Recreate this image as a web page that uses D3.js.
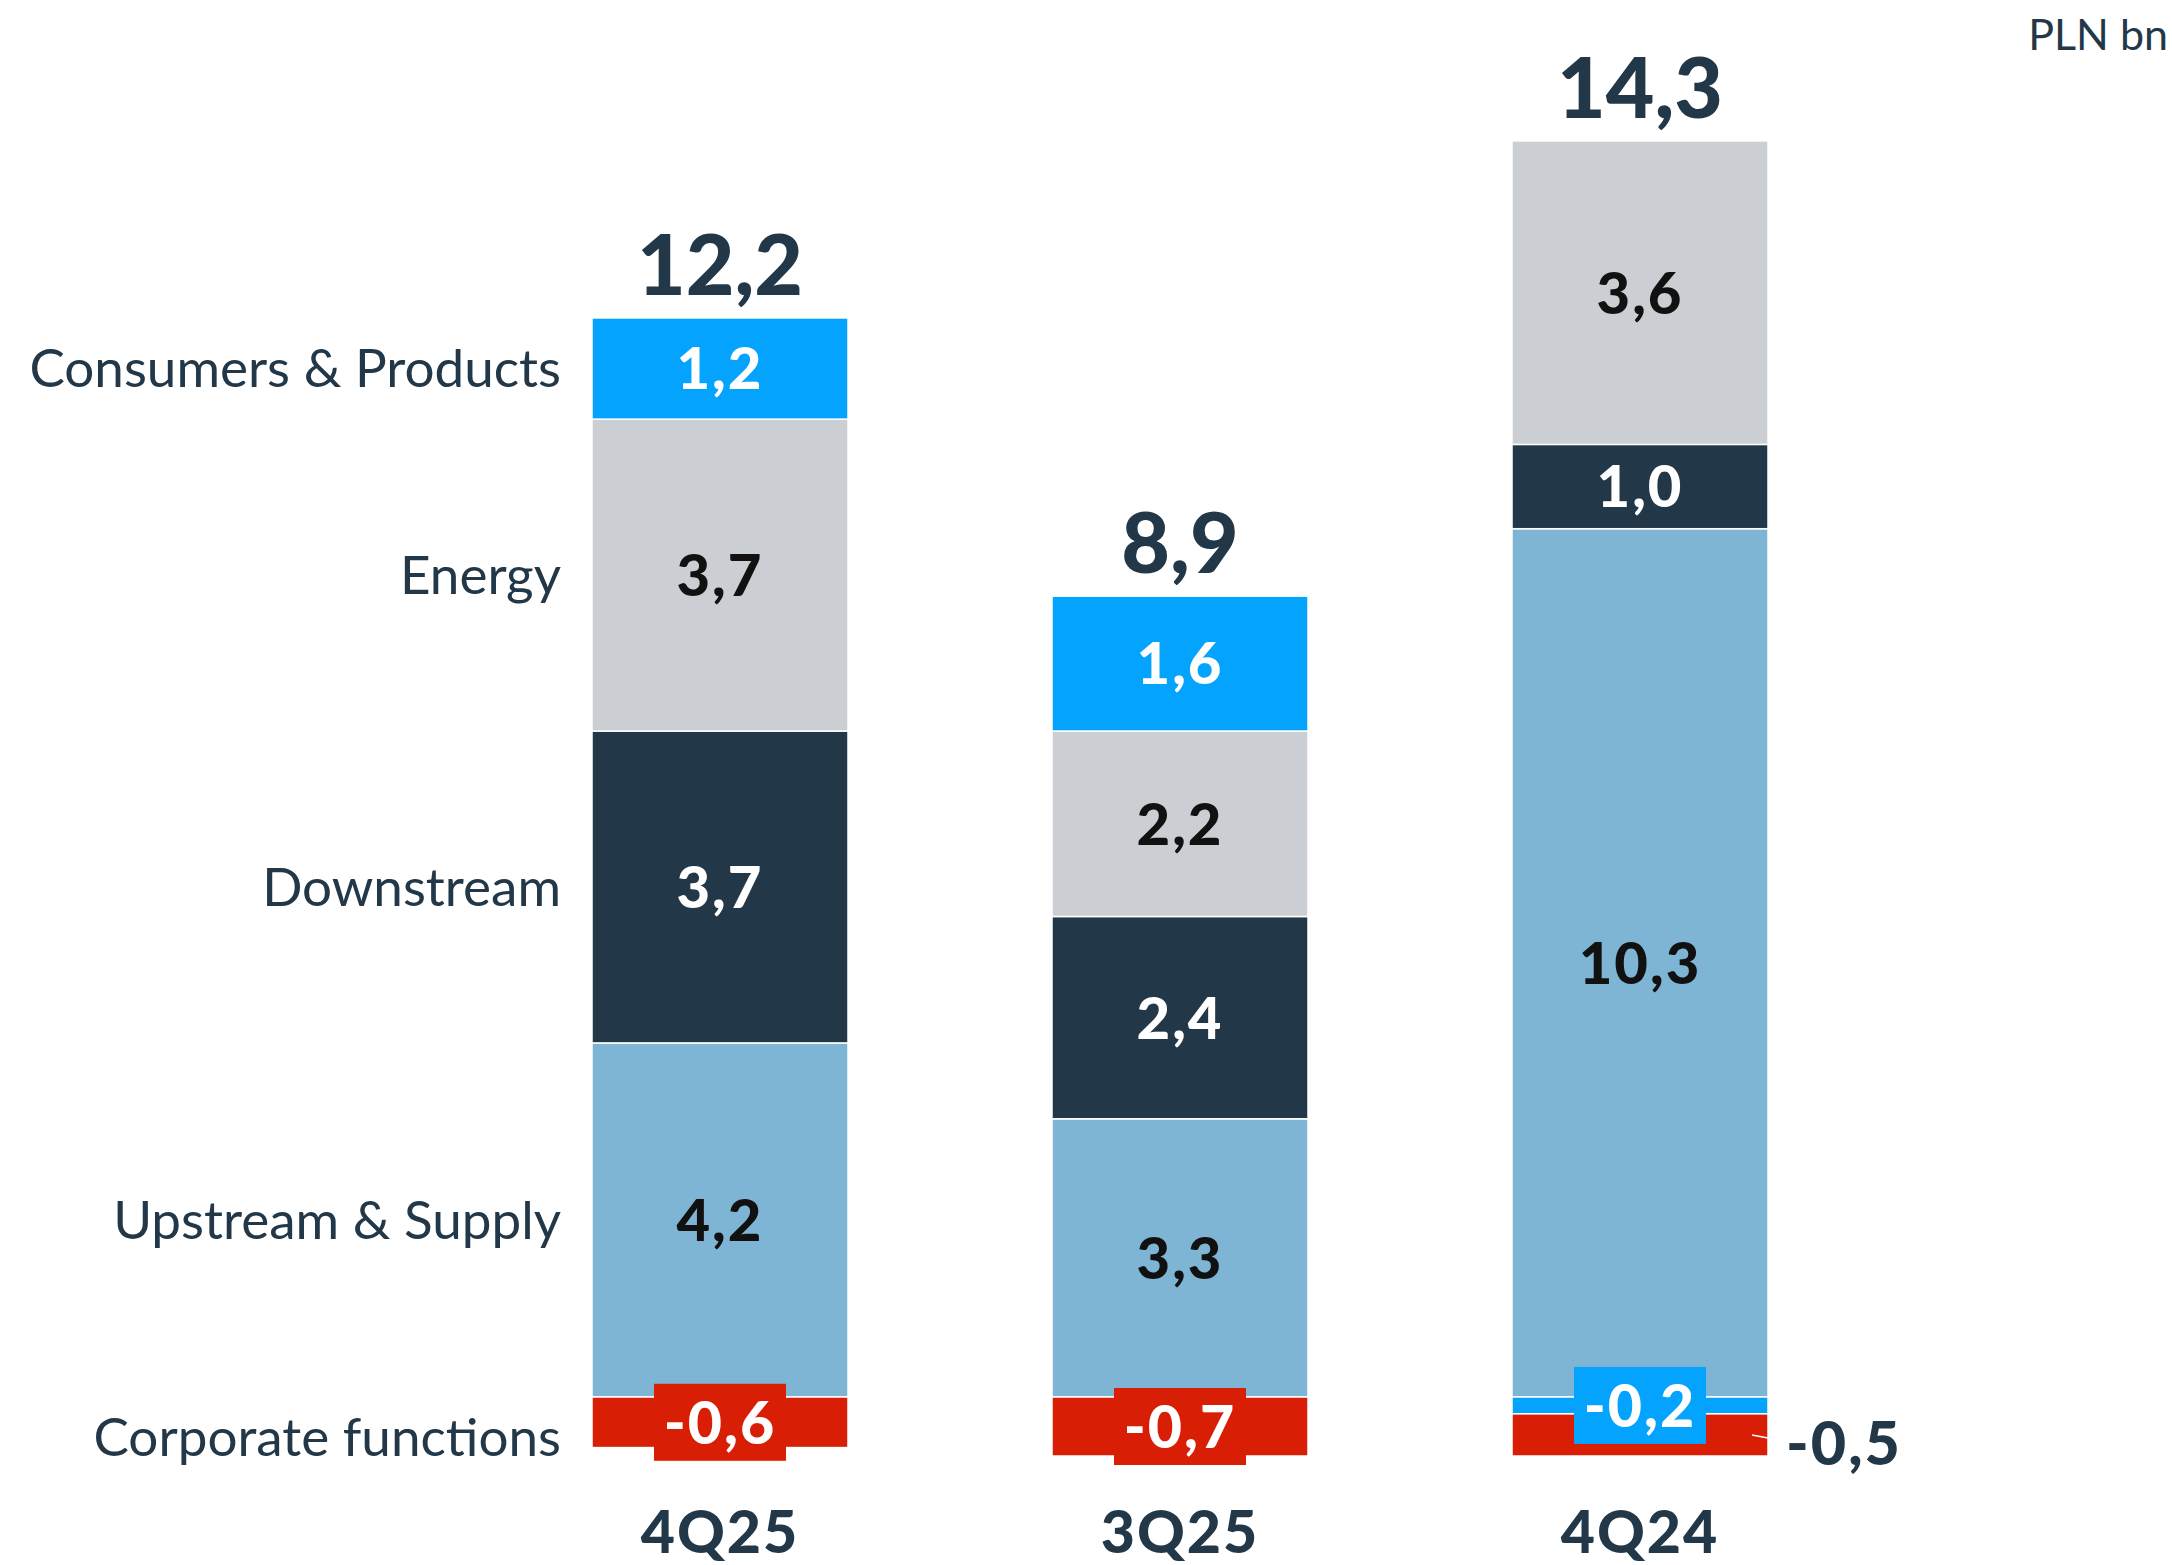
<!DOCTYPE html>
<html>
<head>
    <script src="https://d3js.org/d3.v7.min.js"></script>
    <style>
        body { margin: 0; background: #fff; }
        text { font-family: Lato, "Open Sans", sans-serif; }
        .total { font-weight: 900; fill: #223849; }
        .seg-label { font-weight: 900; letter-spacing: 2px; }
        .cat-label { fill: #223849; font-weight: 400; }
        .period { font-weight: 900; fill: #223849; letter-spacing: 2px; }
    </style>
</head>
<body>
    <svg width="2172" height="1565"></svg>
    <script>
        const periods = ['4Q25', '3Q25', '4Q24'];
        const segments = ['Upstream & Supply', 'Downstream', 'Energy', 'Consumers & Products', 'Corporate functions'];
        const upstream = [4.2, 3.3, 10.3];
        const downstream = [3.7, 2.4, 1.0];
        const energy = [3.7, 2.2, 3.6];
        const consumers = [1.2, 1.6, -0.2];
        const corporate = [-0.6, -0.7, -0.5];
        const totals = [12.2, 8.9, 14.3];
        const unitLabel = 'PLN bn';

        const colors = {
            'Upstream & Supply': '#7fb5d4',
            'Downstream': '#223849',
            'Energy': '#cbced3',
            'Consumers & Products': '#03a3fe',
            'Corporate functions': '#d81f05'
        };
        const textColors = {
            'Upstream & Supply': '#111111',
            'Downstream': '#ffffff',
            'Energy': '#111111',
            'Consumers & Products': '#ffffff',
            'Corporate functions': '#ffffff'
        };

        const rows = periods.map((p, i) => ({
            period: p,
            'Upstream & Supply': upstream[i],
            'Downstream': downstream[i],
            'Energy': energy[i],
            'Consumers & Products': consumers[i],
            'Corporate functions': corporate[i]
        }));

        const locale = d3.formatLocale({decimal: ',', thousands: ' ', grouping: [3], currency: ['', ''], minus: '-'});
        const fmt = locale.format('.1f');

        const svg = d3.select('svg');

        const x = d3.scaleBand()
            .domain(periods)
            .range([592, 1768])
            .paddingInner(0.4435)
            .paddingOuter(0);

        const y = d3.scaleLinear()
            .domain([0, 15])
            .range([1397, 1397 - 15 * 84.3]);

        const stack = d3.stack()
            .keys(segments)
            .offset(d3.stackOffsetDiverging);
        const series = stack(rows);

        const items = [];
        series.forEach(s => {
            s.forEach(d => {
                items.push({key: s.key, period: d.data.period, y0: d[0], y1: d[1], value: d.data[s.key]});
            });
        });

        // bars
        svg.append('g').selectAll('rect')
            .data(items)
            .join('rect')
            .attr('x', d => x(d.period))
            .attr('width', x.bandwidth())
            .attr('y', d => y(Math.max(d.y0, d.y1)))
            .attr('height', d => Math.abs(y(d.y0) - y(d.y1)))
            .attr('fill', d => colors[d.key])
            .attr('stroke', '#fff')
            .attr('stroke-width', 1.5);

        // segment labels
        const labels = svg.append('g');
        periods.forEach(p => {
            const segs = items.filter(d => d.period === p);
            let boxed = false;
            // negative segments ordered from zero down
            const neg = segs.filter(d => d.value < 0).sort((a, b) => b.y1 - a.y1);
            const pos = segs.filter(d => d.value >= 0);
            const cx = x(p) + x.bandwidth() / 2;

            pos.forEach(d => {
                labels.append('text')
                    .attr('class', 'seg-label')
                    .attr('x', cx)
                    .attr('y', y((d.y0 + d.y1) / 2))
                    .attr('dy', '0.36em')
                    .attr('text-anchor', 'middle')
                    .attr('font-size', 58)
                    .attr('fill', textColors[d.key])
                    .text(fmt(d.value));
            });

            neg.forEach(d => {
                const cy = y((d.y0 + d.y1) / 2);
                if (!boxed) {
                    boxed = true;
                    labels.append('rect')
                        .attr('x', cx - 66)
                        .attr('y', cy - 38.5)
                        .attr('width', 132)
                        .attr('height', 77)
                        .attr('fill', colors[d.key]);
                    labels.append('text')
                        .attr('class', 'seg-label')
                        .attr('x', cx)
                        .attr('y', cy)
                        .attr('dy', '0.36em')
                        .attr('text-anchor', 'middle')
                        .attr('font-size', 59)
                        .attr('fill', textColors[d.key])
                        .text(fmt(d.value));
                } else {
                    const right = x(p) + x.bandwidth();
                    labels.append('line')
                        .attr('x1', right - 16)
                        .attr('y1', cy)
                        .attr('x2', right)
                        .attr('y2', cy + 3)
                        .attr('stroke', '#fff')
                        .attr('stroke-width', 1.5);
                    labels.append('text')
                        .attr('class', 'seg-label')
                        .attr('x', right + 18)
                        .attr('y', cy + 8)
                        .attr('dy', '0.36em')
                        .attr('font-size', 61)
                        .attr('fill', '#223849')
                        .text(fmt(d.value));
                }
            });
        });

        // totals
        svg.append('g').selectAll('text')
            .data(periods)
            .join('text')
            .attr('class', 'total')
            .attr('x', p => x(p) + x.bandwidth() / 2)
            .attr('y', p => y(d3.sum(items.filter(d => d.period === p && d.value > 0), d => d.value)) - 23)
            .attr('text-anchor', 'middle')
            .attr('font-size', 84)
            .text((p, i) => fmt(totals[i]));

        // category labels on the left, aligned to the first bar
        const first = items.filter(d => d.period === periods[0]);
        svg.append('g').selectAll('text')
            .data(first)
            .join('text')
            .attr('class', 'cat-label')
            .attr('x', 561)
            .attr('y', d => y((d.y0 + d.y1) / 2) + (d.value < 0 ? 15 : 0))
            .attr('dy', '0.35em')
            .attr('text-anchor', 'end')
            .attr('font-size', 53)
            .text(d => d.key);

        // period axis
        svg.append('g')
            .attr('transform', 'translate(0,1553)')
            .call(d3.axisBottom(x).tickSize(0).tickPadding(0))
            .call(g => g.select('.domain').remove())
            .selectAll('text')
            .attr('class', 'period')
            .attr('font-size', 59)
            .attr('dy', 0);

        svg.append('text')
            .attr('x', 2168)
            .attr('y', 50)
            .attr('text-anchor', 'end')
            .attr('font-size', 43)
            .attr('fill', '#223849')
            .text(unitLabel);
    </script>
</body>
</html>
